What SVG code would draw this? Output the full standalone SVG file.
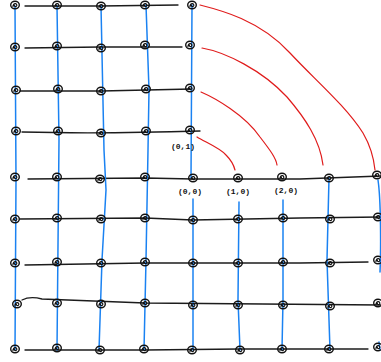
<svg xmlns="http://www.w3.org/2000/svg" width="381" height="362" viewBox="0 0 381 362">
<style>
.h{fill:none;stroke:#1c1c1c;stroke-width:1.3;stroke-linecap:round}
.v{fill:none;stroke:#1a82f2;stroke-width:1.5;stroke-linecap:round}
.r{fill:none;stroke:#e01b1b;stroke-width:1.2;stroke-linecap:round}
.lbl{font-family:"Liberation Mono",monospace;font-size:8px;font-weight:bold;fill:#111}
</style>
<defs>
<g id="n"><ellipse cx="0" cy="0" rx="4.3" ry="3.7" fill="none" stroke="#111" stroke-width="1.4"/><path d="M-2.2,1.8 C-1.5,-2.2 2.2,-2.2 1.8,0.6 C1.2,2.2 -1.2,1.6 -0.6,-0.2" fill="none" stroke="#111" stroke-width="1.2"/></g>
</defs>
<rect width="381" height="362" fill="#fff"/>
<g id="connectors">
<path class="h" d="M25,6 L100,6 L178,5"/>
<path class="h" d="M25,48 L101,47 L182,47"/>
<path class="h" d="M20,91 L101,91 L192,89"/>
<path class="h" d="M22,132 Q100,134 200,131"/>
<path class="h" d="M28,179 L145,178 L193,179 L300,179 L381,176"/>
<path class="h" d="M20,219 L145,218 L193,220 L300,218 L381,217"/>
<path class="h" d="M25,265 L145,263 L300,263 L368,262"/>
<path class="h" d="M22,300 Q30,296 42,299 L145,303 L381,305"/>
<path class="h" d="M25,350 L145,350 L240,349 L368,349"/>
<path class="v" d="M15,6 L16,180 L15,350"/>
<path class="v" d="M57,6 L59,140 L57,350"/>
<path class="v" d="M101,6 L104,150 L106,190 L102,260 L99,350"/>
<path class="v" d="M146,5 L149,90 L148,150 L146,260 L144,350"/>
<path class="v" d="M192,5 L191,178"/>
<path class="v" d="M193,199 L193,350"/>
<path class="v" d="M239,202 L238,300 L240,350"/>
<path class="v" d="M283,200 L283,300 L282,350"/>
<path class="v" d="M329,178 L327,260 L330,350"/>
<path class="v" d="M378,180 C381,200 381,250 380,272"/>
<path class="v" d="M379,342 L380,350"/>
<path class="r" d="M200,5 C220,10 260,20 290,53 C315,80 345,105 363,133 C370,145 374,160 375,170"/>
<path class="r" d="M202,48 C225,52 262,70 287,97 C305,118 320,140 323,165"/>
<path class="r" d="M201,92 C215,98 245,115 260,137 C270,150 276,158 277,165"/>
<path class="r" d="M197,137 C205,142 220,148 226,155 C231,160 234,166 235,170"/>
</g>
<g id="n-0-4"><use href="#n" x="15" y="5"/></g>
<g id="n-1-4"><use href="#n" x="57" y="5"/></g>
<g id="n-2-4"><use href="#n" x="101" y="6"/></g>
<g id="n-3-4"><use href="#n" x="145" y="5"/></g>
<g id="n-4-4"><use href="#n" x="192" y="5"/></g>
<g id="n-0-3"><use href="#n" x="15" y="47"/></g>
<g id="n-1-3"><use href="#n" x="57" y="46"/></g>
<g id="n-2-3"><use href="#n" x="101" y="48"/></g>
<g id="n-3-3"><use href="#n" x="145" y="45"/></g>
<g id="n-4-3"><use href="#n" x="190" y="45"/></g>
<g id="n-0-2"><use href="#n" x="16" y="90"/></g>
<g id="n-1-2"><use href="#n" x="58" y="89"/></g>
<g id="n-2-2"><use href="#n" x="101" y="91"/></g>
<g id="n-3-2"><use href="#n" x="146" y="89"/></g>
<g id="n-4-2"><use href="#n" x="190" y="88"/></g>
<g id="n-0-1"><use href="#n" x="16" y="131"/></g>
<g id="n-1-1"><use href="#n" x="58" y="131"/></g>
<g id="n-2-1"><use href="#n" x="101" y="133"/></g>
<g id="n-3-1"><use href="#n" x="146" y="131"/></g>
<g id="n-4-1"><use href="#n" x="190" y="130"/></g>
<g id="n-0-0"><use href="#n" x="15" y="177"/></g>
<g id="n-1-0"><use href="#n" x="57" y="177"/></g>
<g id="n-2-0"><use href="#n" x="100" y="179"/></g>
<g id="n-3-0"><use href="#n" x="145" y="177"/></g>
<g id="n-4-0"><use href="#n" x="193" y="178"/></g>
<g id="n-5-0"><use href="#n" x="238" y="178"/></g>
<g id="n-6-0"><use href="#n" x="282" y="177"/></g>
<g id="n-7-0"><use href="#n" x="329" y="178"/></g>
<g id="n-8-0"><use href="#n" x="377" y="175"/></g>
<g id="n-0-m1"><use href="#n" x="15" y="219"/></g>
<g id="n-1-m1"><use href="#n" x="57" y="218"/></g>
<g id="n-2-m1"><use href="#n" x="101" y="219"/></g>
<g id="n-3-m1"><use href="#n" x="145" y="218"/></g>
<g id="n-4-m1"><use href="#n" x="193" y="220"/></g>
<g id="n-5-m1"><use href="#n" x="238" y="219"/></g>
<g id="n-6-m1"><use href="#n" x="283" y="218"/></g>
<g id="n-7-m1"><use href="#n" x="330" y="219"/></g>
<g id="n-8-m1"><use href="#n" x="378" y="217"/></g>
<g id="n-0-m2"><use href="#n" x="15" y="263"/></g>
<g id="n-1-m2"><use href="#n" x="57" y="262"/></g>
<g id="n-2-m2"><use href="#n" x="101" y="263"/></g>
<g id="n-3-m2"><use href="#n" x="145" y="262"/></g>
<g id="n-4-m2"><use href="#n" x="193" y="263"/></g>
<g id="n-5-m2"><use href="#n" x="238" y="263"/></g>
<g id="n-6-m2"><use href="#n" x="283" y="262"/></g>
<g id="n-7-m2"><use href="#n" x="330" y="263"/></g>
<g id="n-8-m2"><use href="#n" x="378" y="260"/></g>
<g id="n-0-m3"><use href="#n" x="17" y="304"/></g>
<g id="n-1-m3"><use href="#n" x="57" y="303"/></g>
<g id="n-2-m3"><use href="#n" x="101" y="304"/></g>
<g id="n-3-m3"><use href="#n" x="145" y="303"/></g>
<g id="n-4-m3"><use href="#n" x="193" y="305"/></g>
<g id="n-5-m3"><use href="#n" x="238" y="305"/></g>
<g id="n-6-m3"><use href="#n" x="283" y="305"/></g>
<g id="n-7-m3"><use href="#n" x="330" y="306"/></g>
<g id="n-8-m3"><use href="#n" x="378" y="303"/></g>
<g id="n-0-m4"><use href="#n" x="15" y="349"/></g>
<g id="n-1-m4"><use href="#n" x="57" y="348"/></g>
<g id="n-2-m4"><use href="#n" x="100" y="350"/></g>
<g id="n-3-m4"><use href="#n" x="144" y="349"/></g>
<g id="n-4-m4"><use href="#n" x="192" y="350"/></g>
<g id="n-5-m4"><use href="#n" x="240" y="350"/></g>
<g id="n-6-m4"><use href="#n" x="282" y="349"/></g>
<g id="n-7-m4"><use href="#n" x="329" y="349"/></g>
<g id="n-8-m4"><use href="#n" x="378" y="347"/></g>
<g id="labels">
<text class="lbl" x="183" y="149" text-anchor="middle">(0,1)</text>
<text class="lbl" x="190" y="194" text-anchor="middle">(0,0)</text>
<text class="lbl" x="238" y="194" text-anchor="middle">(1,0)</text>
<text class="lbl" x="286" y="193" text-anchor="middle">(2,0)</text>
</g>
</svg>
